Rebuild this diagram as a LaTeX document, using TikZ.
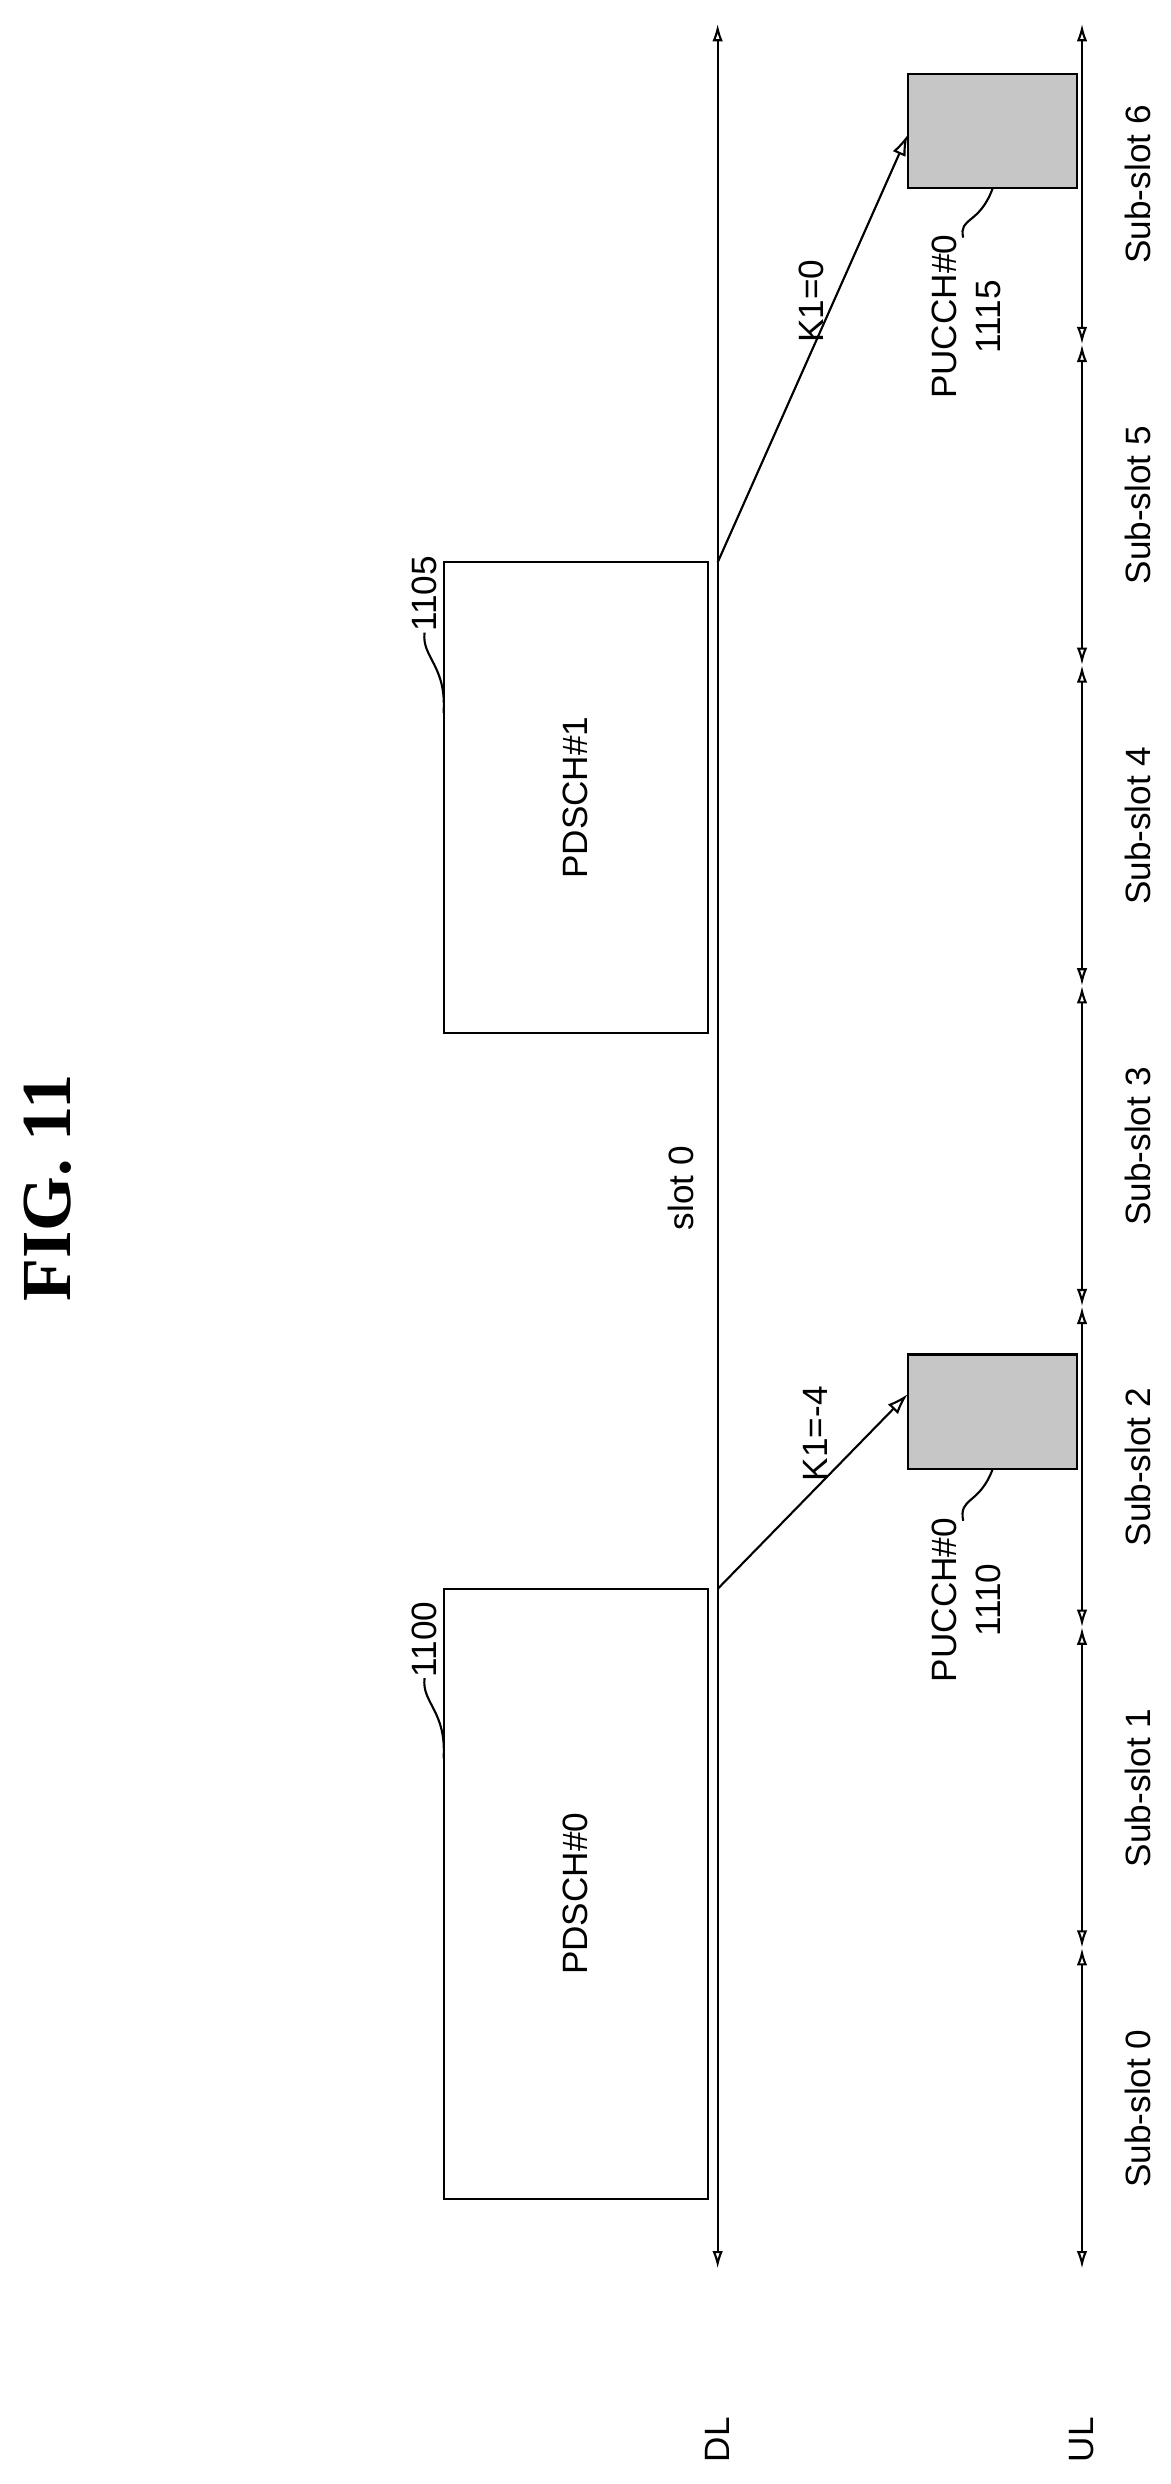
\documentclass[tikz,border=0pt]{standalone}
\usepackage{fontspec}
\setmainfont{Liberation Sans}
\newfontfamily\titlefont{Liberation Serif}
\usetikzlibrary{arrows.meta}
\begin{document}
\begin{tikzpicture}[x=0.015833cm,y=-0.015833cm,
  ln/.style={line width=0.6pt},
  ax/.style={ln,{Latex[length=5pt,width=3pt,open]}-{Latex[length=5pt,width=3pt,open]}},
  lbl/.style={rotate=90,font=\fontsize{10}{12.5}\selectfont,inner sep=0pt},
  box/.style={draw,ln,inner sep=0pt},
  pu/.style={box,fill=gray!45}]
\useasboundingbox (0,0) rectangle (739,1568);
\node[rotate=90,font=\fontsize{20}{24}\bfseries\titlefont] (title) at (30,750) {FIG. 11};
% DL
\coordinate (dl0) at (453,15); \coordinate (dl1) at (453,1432);
\draw[ax] (dl1) -- (dl0);
\node[lbl] (dll) at (453,1540) {DL};
% UL segments
\foreach \i in {0,...,7}{\coordinate (u\i) at (683,{1432-\i*202.43});}
\foreach \i/\j in {0/1,1/2,2/3,3/4,4/5,5/6,6/7}{\draw[ax] (u\i) -- (u\j);}
\node[lbl] (ull) at (683,1540) {UL};
\foreach \i in {0,...,6}{\node[lbl] (s\i) at (718,{1331-\i*202.43}) {Sub-slot \i};}
\node[lbl] (slot) at (430,750) {slot 0};
% PDSCH boxes
\node[box,minimum width=167*0.015833cm,minimum height=385*0.015833cm] (p0) at (363.5,1195.5) {};
\node[lbl] at (p0) {PDSCH\#0};
\node[box,minimum width=167*0.015833cm,minimum height=297*0.015833cm] (p1) at (363.5,503.5) {};
\node[lbl] at (p1) {PDSCH\#1};
\node[lbl] (n1100) at (268,1035) {1100};
\draw[ln] (n1100.west) .. controls (266,1075) and (282,1080) .. (280,1110);
\node[lbl] (n1105) at (268,375) {1105};
\draw[ln] (n1105.west) .. controls (266,415) and (282,420) .. (280,450);
% PUCCH boxes
\node[pu,minimum width=107*0.015833cm,minimum height=72*0.015833cm] (q0) at (626.5,891) {};
\node[pu,minimum width=107*0.015833cm,minimum height=72*0.015833cm] (q1) at (626.5,82.5) {};
\node[lbl,align=center] (t1110) at (610,1010) {PUCCH\#0\\1110};
\node[lbl,align=center] (t1115) at (610,200) {PUCCH\#0\\1115};
\draw[ln] (q0.south) .. controls (618,950) and (605,945) .. (608,960);
\draw[ln] (q1.south) .. controls (618,142) and (605,137) .. (608,150);
% K1 arrows
\coordinate (a0) at (453,1003); \coordinate (a1) at (453,355);
\draw[ln,-{Latex[length=6pt,width=4pt,open]}] (a0) -- (573,880);
\draw[ln,-{Latex[length=6pt,width=4pt,open]}] (a1) -- (573,85);
\node[lbl] (k0) at (515,905) {K1=-4};
\node[lbl] (k1) at (512,190) {K1=0};
\end{tikzpicture}
\end{document}
